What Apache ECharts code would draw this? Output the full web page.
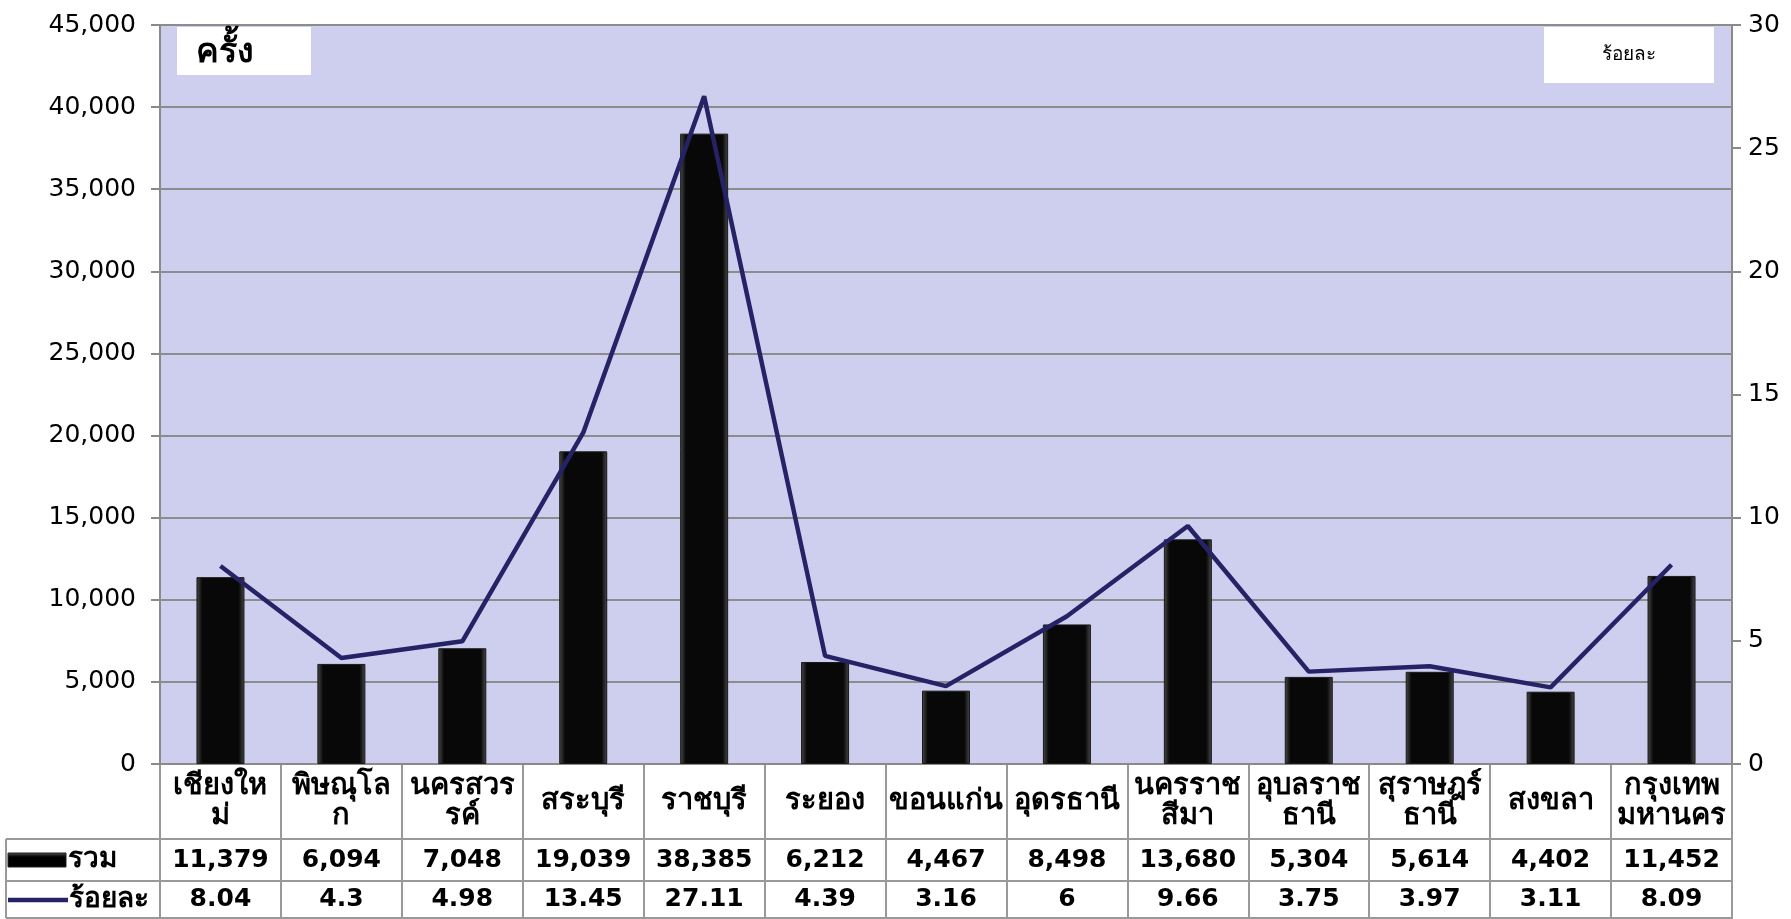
<!DOCTYPE html>
<html>
<head>
<meta charset="utf-8">
<script src="https://cdn.jsdelivr.net/npm/echarts@6/dist/echarts.min.js"></script>
<style>
html,body{margin:0;padding:0;background:#fff;}
#c{width:1791px;height:919px;}
</style>
</head>
<body>
<div id="c"></div>
<script>
const categories = ['เชียงให\nม่', 'พิษณุโล\nก', 'นครสวร\nรค์', 'สระบุรี', 'ราชบุรี', 'ระยอง', 'ขอนแก่น', 'อุดรธานี', 'นครราช\nสีมา', 'อุบลราช\nธานี', 'สุราษฎร์\nธานี', 'สงขลา', 'กรุงเทพ\nมหานคร'];
const totals = [11379, 6094, 7048, 19039, 38385, 6212, 4467, 8498, 13680, 5304, 5614, 4402, 11452];
const percents = [8.04, 4.3, 4.98, 13.45, 27.11, 4.39, 3.16, 6, 9.66, 3.75, 3.97, 3.11, 8.09];
const seriesNames = ['รวม', 'ร้อยละ'];
const leftTicks = { min: 0, max: 45000, interval: 5000 };
const rightTicks = { min: 0, max: 30, interval: 5 };

const FONT = "'DejaVu Sans', 'Noto Sans', sans-serif";
const GRID_L = 160, GRID_R = 1732, GRID_T = 25, GRID_B = 764, BOTTOM = 918;
const ROW1 = 839, ROW2 = 881;
const LINE_COLOR = '#262266';
const BORDER = '#999999';

const chart = echarts.init(document.getElementById('c'), null, { renderer: 'canvas' });

const barColor = new echarts.graphic.LinearGradient(0, 0, 1, 0, [
  { offset: 0, color: '#4a4a4a' },
  { offset: 0.12, color: '#080808' },
  { offset: 0.88, color: '#080808' },
  { offset: 1, color: '#4a4a4a' }
]);

function rowAxis(data, margin) {
  return {
    type: 'category', gridIndex: 0, position: 'bottom', data: data,
    axisLine: { show: false }, axisTick: { show: false }, splitLine: { show: false },
    axisLabel: { interval: 0, margin: margin, verticalAlign: 'middle', color: '#000',
      fontFamily: FONT, fontSize: 25, fontWeight: 'bold', lineHeight: 30 }
  };
}

const option = {
  animation: false,
  backgroundColor: '#ffffff',
  grid: [
    { left: GRID_L, right: 1791 - GRID_R, top: GRID_T, bottom: 919 - GRID_B,
      show: true, backgroundColor: '#CECEEE', borderColor: '#8a8a8a', borderWidth: 2 },
    { left: GRID_L, right: 1791 - GRID_R, top: GRID_B, bottom: 919 - BOTTOM,
      show: true, backgroundColor: 'transparent', borderColor: BORDER, borderWidth: 2 }
  ],
  xAxis: [
    {
      type: 'category', gridIndex: 0, position: 'bottom', data: categories,
      axisLine: { show: true, lineStyle: { color: '#8a8a8a', width: 2 } },
      axisTick: { show: false }, splitLine: { show: false },
      axisLabel: { interval: 0, margin: (ROW1 - GRID_B) / 2, verticalAlign: 'middle', color: '#000',
        fontFamily: FONT, fontSize: 29, fontWeight: 'bold', lineHeight: 30 }
    },
    rowAxis(totals.map(v => v.toLocaleString('en-US')), (ROW1 + ROW2) / 2 - GRID_B),
    rowAxis(percents.map(v => String(v)), (ROW2 + BOTTOM) / 2 - GRID_B),
    {
      type: 'category', gridIndex: 1, data: categories,
      axisLine: { show: false }, axisTick: { show: false }, axisLabel: { show: false },
      splitLine: { show: true, interval: 0, lineStyle: { color: BORDER, width: 2 } }
    }
  ],
  yAxis: [
    {
      type: 'value', gridIndex: 0, position: 'left', min: leftTicks.min, max: leftTicks.max, interval: leftTicks.interval,
      axisLine: { show: false },
      axisTick: { show: true, length: 9, lineStyle: { color: '#8a8a8a', width: 2 } },
      splitLine: { show: true, lineStyle: { color: '#8c8c8c', width: 2 } },
      axisLabel: { margin: 24, color: '#000', fontFamily: FONT, fontSize: 25,
        formatter: v => v.toLocaleString('en-US') }
    },
    {
      type: 'value', gridIndex: 0, position: 'right', min: rightTicks.min, max: rightTicks.max, interval: rightTicks.interval,
      axisLine: { show: false },
      axisTick: { show: true, length: 9, lineStyle: { color: '#8a8a8a', width: 2 } },
      splitLine: { show: false },
      axisLabel: { margin: 16, color: '#000', fontFamily: FONT, fontSize: 25 }
    },
    { type: 'value', gridIndex: 1, show: false }
  ],
  series: [
    {
      name: seriesNames[0], type: 'bar', xAxisIndex: 0, yAxisIndex: 0, data: totals,
      barWidth: 48,
      itemStyle: { color: barColor, borderColor: '#1a1a1a', borderWidth: 1 }
    },
    {
      name: seriesNames[1], type: 'line', xAxisIndex: 0, yAxisIndex: 1, data: percents,
      symbol: 'none', lineStyle: { color: LINE_COLOR, width: 4.5 }, itemStyle: { color: LINE_COLOR }, z: 5
    }
  ],
  graphic: [
    { type: 'rect', shape: { x: 177, y: 27, width: 134, height: 48 }, style: { fill: '#ffffff' }, z: 10 },
    { type: 'text', x: 196, y: 53, style: { text: 'ครั้ง', font: "bold 34px " + FONT, fill: '#000', verticalAlign: 'middle' }, z: 11 },
    { type: 'rect', shape: { x: 1544, y: 27, width: 170, height: 56 }, style: { fill: '#ffffff' }, z: 10 },
    { type: 'text', x: 1629, y: 55, style: { text: 'ร้อยละ', font: "19px 'Liberation Serif', serif", fill: '#000', align: 'center', verticalAlign: 'middle' }, z: 11 },
    { type: 'line', shape: { x1: 6, y1: ROW1, x2: GRID_R, y2: ROW1 }, style: { stroke: BORDER, lineWidth: 2 }, z: 10 },
    { type: 'line', shape: { x1: 6, y1: ROW2, x2: GRID_R, y2: ROW2 }, style: { stroke: BORDER, lineWidth: 2 }, z: 10 },
    { type: 'line', shape: { x1: 6, y1: BOTTOM, x2: GRID_R, y2: BOTTOM }, style: { stroke: BORDER, lineWidth: 2 }, z: 10 },
    { type: 'line', shape: { x1: 6, y1: ROW1, x2: 6, y2: BOTTOM }, style: { stroke: BORDER, lineWidth: 2 }, z: 10 },
    { type: 'rect', shape: { x: 8, y: 853, width: 58, height: 14 },
      style: { fill: new echarts.graphic.LinearGradient(0, 0, 0, 1, [
        { offset: 0, color: '#555' }, { offset: 0.3, color: '#000' }, { offset: 1, color: '#000' }]), stroke: '#222', lineWidth: 1 }, z: 10 },
    { type: 'text', x: 68, y: (ROW1 + ROW2) / 2, style: { text: seriesNames[0], font: "bold 28px " + FONT, fill: '#000', verticalAlign: 'middle' }, z: 10 },
    { type: 'line', shape: { x1: 8, y1: 900, x2: 68, y2: 900 }, style: { stroke: LINE_COLOR, lineWidth: 4.5 }, z: 10 },
    { type: 'text', x: 69, y: (ROW2 + BOTTOM) / 2, style: { text: seriesNames[1], font: "bold 28px " + FONT, fill: '#000', verticalAlign: 'middle' }, z: 10 }
  ]
};
chart.setOption(option);
</script>
</body>
</html>
